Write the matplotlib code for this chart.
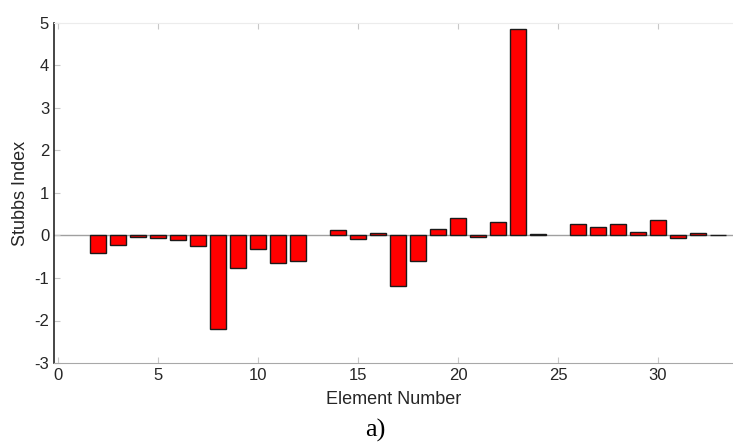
import matplotlib.pyplot as plt
import numpy as np

# Stubbs index per element
elements = np.arange(1, 34)
stubbs = [0.0, -0.42, -0.22, -0.04, -0.06, -0.10, -0.25, -2.19, -0.76, -0.31,
          -0.64, -0.61, 0.0, 0.13, -0.09, 0.07, -1.19, -0.61, 0.16, 0.41,
          -0.03, 0.31, 4.85, 0.04, 0.0, 0.28, 0.19, 0.27, 0.09, 0.37,
          -0.07, 0.06, 0.02]
xticks = [0, 5, 10, 15, 20, 25, 30]
yticks = [-3, -2, -1, 0, 1, 2, 3, 4, 5]

plt.rcParams['font.family'] = ['Liberation Sans', 'DejaVu Sans']
plt.rcParams['axes.unicode_minus'] = False

fig = plt.figure(figsize=(7.33, 4.47), dpi=100)
ax = fig.add_axes([54 / 733, 84 / 447, 679 / 733, 340 / 447])

ax.axhline(0, color='#a0a0a0', lw=1.0, zorder=1)
# zero-valued elements draw nothing visible
lws = [1.0 if v != 0 else 0.0 for v in stubbs]
ax.bar(elements, stubbs, width=0.83, color='#ff0000', edgecolor='#1a1a1a',
       linewidth=lws, zorder=2)

ax.set_xlim(-0.2, 33.75)
ax.set_ylim(-3, 5)
ax.set_xticks(xticks)
ax.set_yticks(yticks)

ax.spines['right'].set_visible(False)
ax.spines['top'].set_color('#ececec')
ax.spines['left'].set_color('#262626')
ax.spines['left'].set_linewidth(1.2)
ax.spines['bottom'].set_color('#a8a8a8')
ax.tick_params(direction='in', length=4, color='#c8c8c8', labelcolor='#262626',
               labelsize=12, top=True)

ax.set_xlabel('Element Number', fontsize=13, color='#262626', labelpad=6)
ax.set_ylabel('Stubbs Index', fontsize=13, color='#262626', labelpad=4)

fig.text(0.512, 0.036, 'a)', family=['Liberation Serif', 'DejaVu Serif'],
         fontsize=19, ha='center', va='center')

fig.savefig('out.png', dpi=100)
